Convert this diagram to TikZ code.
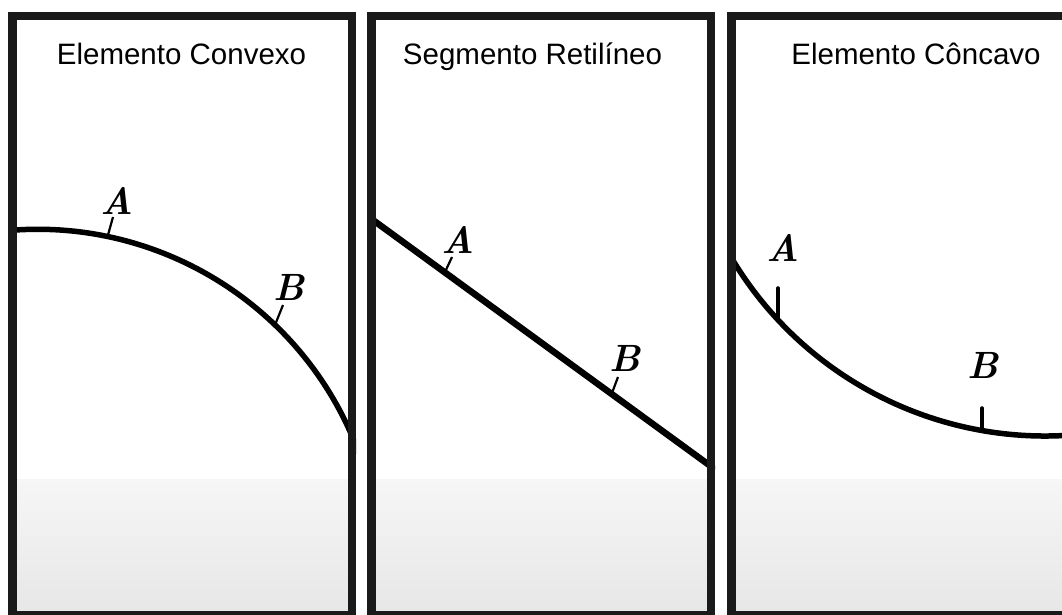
\documentclass[tikz,border=0pt]{standalone}
\usepackage{fontspec}
\newfontfamily\titlefont{Liberation Sans}
\definecolor{framec}{HTML}{1A1A1A}
\definecolor{gradtop}{HTML}{F6F6F6}
\definecolor{gradbot}{HTML}{E6E6E6}
\tikzset{
  paneltitle/.style={font=\titlefont\fontsize{29.5}{32}\selectfont, anchor=base, inner sep=0pt},
  ptlabel/.style={font=\fontsize{38}{40}\selectfont\bfseries\itshape, inner sep=0pt},
  panelframe/.style={draw=framec, line width=8.5pt},
  groundfill/.style={bottom color=gradbot, top color=gradtop, draw=none},
  profile/.style={line width=5.5pt, black},
  tickline/.style={line width=2.2pt, black},
  tickthick/.style={line width=3.5pt, black, line cap=round}
}
\begin{document}
\begin{tikzpicture}[x=1pt,y=1pt]
\useasboundingbox (0,0) rectangle (1062,615);
\clip (0,0) rectangle (1062,615);
\fill[white] (0,0) rectangle (1062,615);
% ground gradient
\shade[groundfill] (12.25,-5) rectangle (351.75,135);
\shade[groundfill] (371.25,-5) rectangle (710.75,135);
\shade[groundfill] (731.25,-5) rectangle (1070.75,135);
% panel 1 convex curve
\begin{scope}
\clip (8,-5) rectangle (356,603);
\draw[profile] (37.6,43.2) ++(96:342.5) arc[start angle=96, end angle=20, radius=342.5];
\end{scope}
% panel 2 straight segment
\begin{scope}
\clip (367,-5) rectangle (715,603);
\coordinate (s1) at (367,399.3);
\coordinate (s2) at (715,145.7);
\draw[profile, line width=6.5pt] (s1) -- (s2);
\end{scope}
% panel 3 concave curve
\begin{scope}
\clip (727,-5) rectangle (1075,603);
\draw[profile] (1045,544) ++(206:365) arc[start angle=206, end angle=280, radius=365];
\end{scope}
% frames
\draw[panelframe] (12.25,-0.25) rectangle (351.75,598.75);
\draw[panelframe] (371.25,-0.25) rectangle (710.75,598.75);
\draw[panelframe] (731.25,-0.25) rectangle (1070.75,598.75);
% titles
\node[paneltitle] (t1) at (181.5,550) {Elemento Convexo};
\node[paneltitle] (t2) at (532.5,550) {Segmento Retilíneo};
\node[paneltitle] (t3) at (916,550) {Elemento Côncavo};
% panel 1 ticks and labels
\coordinate (a1t) at (113,398);
\coordinate (a1b) at (108,380);
\draw[tickline] (a1t) -- (a1b);
\node[ptlabel] (A1) at (117,414) {A};
\coordinate (b1t) at (283,310);
\coordinate (b1b) at (275,290);
\draw[tickline] (b1t) -- (b1b);
\node[ptlabel] (B1) at (289,328) {B};
% panel 2 ticks and labels
\coordinate (a2t) at (452,358);
\coordinate (a2b) at (445,343);
\draw[tickline] (a2t) -- (a2b);
\node[ptlabel] (A2) at (458,375) {A};
\coordinate (b2t) at (618,238);
\coordinate (b2b) at (612,222);
\draw[tickline] (b2t) -- (b2b);
\node[ptlabel] (B2) at (625,257) {B};
% panel 3 ticks and labels
\coordinate (a3t) at (778,327);
\coordinate (a3b) at (778,296);
\draw[tickthick] (a3t) -- (a3b);
\node[ptlabel] (A3) at (783,367) {A};
\coordinate (b3t) at (982,207);
\coordinate (b3b) at (982,185);
\draw[tickthick] (b3t) -- (b3b);
\node[ptlabel] (B3) at (983,250) {B};
\end{tikzpicture}
\end{document}
